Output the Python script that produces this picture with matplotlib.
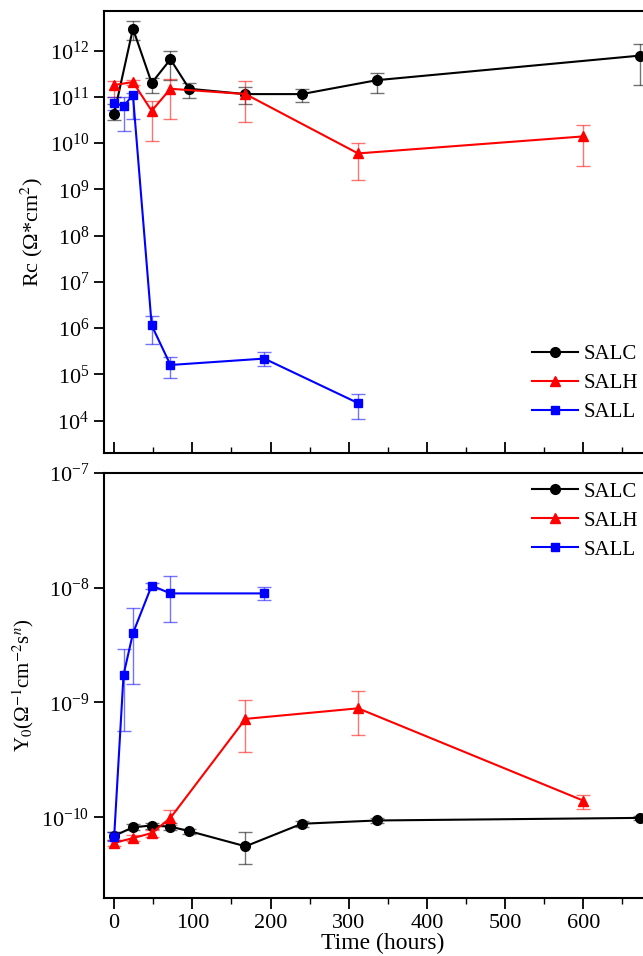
import numpy as np
import matplotlib
matplotlib.use("Agg")
import matplotlib.pyplot as plt
from matplotlib.ticker import MultipleLocator, LogLocator, NullLocator

plt.rcParams['font.family'] = ['Liberation Serif', 'DejaVu Serif']
plt.rcParams['mathtext.fontset'] = 'stix'
plt.rcParams['font.size'] = 14

# Rc data (top panel)
salc_t = [0, 24, 48, 72, 96, 168, 240, 336, 672]
salc_rc = [4.3e10, 3.0e12, 2.0e11, 6.5e11, 1.5e11, 1.15e11, 1.15e11, 2.3e11, 7.8e11]
salc_rc_lo = [3.1e10, 1.66e12, 1.23e11, 2.3e11, 9.5e10, 7.1e10, 7.9e10, 1.2e11, 1.8e11]
salc_rc_hi = [7.2e10, 4.4e12, 2.6e11, 1.0e12, 2.0e11, 1.6e11, 1.5e11, 3.3e11, 1.4e12]

salh_t = [0, 24, 48, 72, 168, 312, 600]
salh_rc = [1.8e11, 2.1e11, 5.0e10, 1.5e11, 1.15e11, 6.0e9, 1.4e10]
salh_rc_lo = [1.0e11, 1.8e11, 1.1e10, 3.3e10, 2.9e10, 1.6e9, 3.2e9]
salh_rc_hi = [2.2e11, 2.35e11, 8.3e10, 2.45e11, 2.25e11, 1.0e10, 2.45e10]

sall_t = [0, 12, 24, 48, 72, 192, 312]
sall_rc = [7.5e10, 6.3e10, 1.1e11, 1.15e6, 1.6e5, 2.2e5, 2.4e4]
sall_rc_lo = [5.2e10, 1.8e10, 3.3e10, 4.6e5, 8.5e4, 1.5e5, 1.1e4]
sall_rc_hi = [1.0e11, 1.0e11, 1.2e11, 1.8e6, 2.4e5, 3.1e5, 3.8e4]

# Y0 data (bottom panel)
salc_y0 = [6.9e-11, 8.2e-11, 8.5e-11, 8.3e-11, 7.6e-11, 5.6e-11, 8.8e-11, 9.4e-11, 9.9e-11]
salc_y0_lo = [6.3e-11, 7.7e-11, 8.0e-11, 7.7e-11, 7.2e-11, 3.9e-11, 8.3e-11, 9.0e-11, 9.5e-11]
salc_y0_hi = [7.5e-11, 8.7e-11, 9.0e-11, 8.9e-11, 8.0e-11, 7.4e-11, 9.3e-11, 9.8e-11, 1.03e-10]

salh_y0 = [6.0e-11, 6.6e-11, 7.3e-11, 9.9e-11, 7.2e-10, 8.9e-10, 1.4e-10]
salh_y0_lo = [5.6e-11, 6.2e-11, 6.8e-11, 8.6e-11, 3.7e-10, 5.2e-10, 1.18e-10]
salh_y0_hi = [6.4e-11, 7.0e-11, 7.8e-11, 1.15e-10, 1.05e-9, 1.26e-9, 1.58e-10]

sall_t2 = [0, 12, 24, 48, 72, 192]
sall_y0 = [6.8e-11, 1.74e-9, 4.0e-9, 1.04e-8, 8.9e-9, 8.9e-9]
sall_y0_lo = [6.2e-11, 5.6e-10, 1.45e-9, 9.8e-9, 5.0e-9, 7.8e-9]
sall_y0_hi = [7.4e-11, 2.95e-9, 6.6e-9, 1.09e-8, 1.26e-8, 1.02e-8]

x_ticks = [0, 100, 200, 300, 400, 500, 600, 700]
x_labels = ['0', '100', '200', '300', '400', '500', '600', '']


def series(ax, t, y, lo, hi, color, marker, label, ms):
    y = np.array(y)
    err = [y - np.array(lo), np.array(hi) - y]
    ax.errorbar(t, y, yerr=err, fmt='none', ecolor=color, alpha=0.55,
                elinewidth=1.0, capsize=5, capthick=1.0, zorder=2)
    ax.plot(t, y, color=color, marker=marker, markersize=ms, lw=1.5,
            label=label, zorder=3)


fig = plt.figure(figsize=(6.43, 9.56), dpi=100)
W, H = 643, 956
ax1 = fig.add_axes([104 / W, 1 - 453 / H, 557.4 / W, 442 / H])
ax2 = fig.add_axes([104 / W, 1 - 897.7 / H, 557.4 / W, 425 / H])

series(ax1, salc_t, salc_rc, salc_rc_lo, salc_rc_hi, 'black', 'o', 'SALC', 7)
series(ax1, salh_t, salh_rc, salh_rc_lo, salh_rc_hi, 'red', '^', 'SALH', 7)
series(ax1, sall_t, sall_rc, sall_rc_lo, sall_rc_hi, 'blue', 's', 'SALL', 6)

series(ax2, salc_t, salc_y0, salc_y0_lo, salc_y0_hi, 'black', 'o', 'SALC', 7)
series(ax2, salh_t, salh_y0, salh_y0_lo, salh_y0_hi, 'red', '^', 'SALH', 7)
series(ax2, sall_t2, sall_y0, sall_y0_lo, sall_y0_hi, 'blue', 's', 'SALL', 6)

for ax in (ax1, ax2):
    ax.set_yscale('log')
    ax.set_xticks(x_ticks, x_labels)
    ax.set_xlim(-13, 700)
    ax.xaxis.set_minor_locator(MultipleLocator(50))
    ax.yaxis.set_minor_locator(NullLocator())
    for s in ax.spines.values():
        s.set_linewidth(1.5)
    ax.tick_params(axis='y', which='major', direction='out', length=7,
                   width=1.3, labelsize=16)
    ax.tick_params(axis='x', which='major', length=8, width=1.3, labelsize=16)
    ax.tick_params(axis='x', which='minor', length=4, width=1.0)

ax1.set_ylim(2.0e3, 7.2e12)
ax1.yaxis.set_major_locator(LogLocator(base=10, numticks=20))
ax1.tick_params(axis='x', which='both', direction='in', labelbottom=False)
ax1.set_ylabel(r'Rc (Ω*cm$^2$)', fontsize=16, labelpad=4)

ax2.set_ylim(2.0e-11, 1e-7)
ax2.yaxis.set_major_locator(LogLocator(base=10, numticks=20))
ax2.tick_params(axis='x', which='both', direction='out')
ax2.set_ylabel(r'Y$_0$(Ω$^{-1}$cm$^{-2}$s$^{n}$)', fontsize=15, labelpad=4)
ax2.set_xlabel('Time (hours)', fontsize=17, labelpad=0)

leg_kw = dict(frameon=False, handlelength=2.2, handletextpad=0.3,
              labelspacing=0.45, borderpad=0.2, fontsize=15)
ax1.legend(loc='lower right', bbox_to_anchor=(0.985, 0.037), **leg_kw)
ax2.legend(loc='upper right', bbox_to_anchor=(0.985, 1.012), **leg_kw)

fig.savefig('out.png', dpi=100)
